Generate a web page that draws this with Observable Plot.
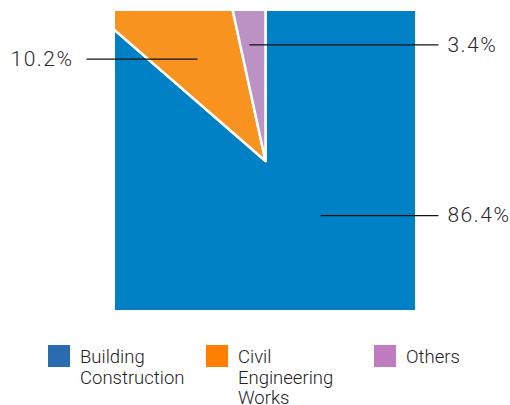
<!DOCTYPE html>
<html>
<head>
<meta charset="utf-8">
<script src="https://cdn.jsdelivr.net/npm/d3@7"></script>
<script src="https://cdn.jsdelivr.net/npm/@observablehq/plot@0.6"></script>
<style>
  body { margin: 0; background: #fff; font-family: Roboto, "Noto Sans", sans-serif; }
  #chart svg { display: block; }
  .legend { position: relative; height: 85px; font-weight: 300; font-size: 18.5px; line-height: 20.5px; color: #222; }
  .item { position: absolute; top: 25px; display: flex; align-items: flex-start; }
  .sw { width: 22px; height: 22px; flex: none; margin-right: 10px; }
  .lbl { margin-top: 2px; }
</style>
</head>
<body>
<div id="chart"></div>
<div class="legend" id="legend"></div>
<script>
// ---- data ----
const categories = ["Building Construction", "Civil Engineering Works", "Others"];
const legendLabels = ["Building<br>Construction", "Civil<br>Engineering<br>Works", "Others"];
const shares = [86.4, 10.2, 3.4];
const valueLabels = ["86.4%", "10.2%", "3.4%"];

// ---- styles / layout ----
const pieColors = ["#0081c6", "#f7931e", "#bc91c4"];
const legendColors = ["#2b6cb0", "#ff7f00", "#c07cc0"];
// leader-line layout in plot units
const labelLayout = [
  {x1: 0.367, y: -0.365, x2: 1.153, side: "right"},
  {x1: -0.453, y: 0.681, x2: -1.193, side: "left"},
  {x1: -0.107, y: 0.777, x2: 1.153, side: "right"}
];

// ---- geometry via d3.pie ----
const arcs = d3.pie().sort(null).value(d => d.v)(categories.map((c, i) => ({c, v: shares[i]})));
const R = 2;
const wedgePts = [];
arcs.forEach(a => {
  const name = a.data.c;
  wedgePts.push({name, x: 0, y: 0});
  const n = Math.max(4, Math.ceil((a.endAngle - a.startAngle) / 0.01));
  for (let k = 0; k <= n; k++) {
    const t = a.startAngle + (a.endAngle - a.startAngle) * k / n;
    wedgePts.push({name, x: R * Math.sin(t), y: R * Math.cos(t)});
  }
  wedgePts.push({name, x: 0, y: 0});
});

const labels = labelLayout.map((l, i) => ({...l, text: valueLabels[i]}));

const plot = Plot.plot({
  width: 510,
  height: 320,
  marginLeft: 115,
  marginRight: 95,
  marginTop: 11,
  marginBottom: 10,
  x: {domain: [-1, 1], axis: null},
  y: {domain: [-1, 1], axis: null},
  color: {domain: categories, range: pieColors},
  style: {fontFamily: "Roboto, sans-serif", overflow: "visible"},
  marks: [
    Plot.line(wedgePts, {x: "x", y: "y", z: "name", fill: "name", stroke: "white", strokeWidth: 2.5, strokeLinejoin: "miter", clip: true}),
    Plot.link(labels, {x1: "x1", x2: "x2", y1: "y", y2: "y", stroke: "#111", strokeWidth: 1.3}),
    Plot.text(labels.filter(d => d.side === "right"), {x: "x2", y: "y", text: "text", dx: 9, textAnchor: "start", fontSize: 21, fontWeight: 300, fill: "#2a2a2a"}),
    Plot.text(labels.filter(d => d.side === "left"), {x: "x2", y: "y", text: "text", dx: -13, textAnchor: "end", fontSize: 21, fontWeight: 300, fill: "#2a2a2a"})
  ]
});
plot.querySelectorAll("text").forEach(t => t.style.letterSpacing = "1.5px");
document.getElementById("chart").appendChild(plot);

// ---- legend ----
const lefts = [48, 206, 374];
const leg = document.getElementById("legend");
categories.forEach((c, i) => {
  const it = document.createElement("div");
  it.className = "item";
  it.style.left = lefts[i] + "px";
  it.innerHTML = `<div class="sw" style="background:${legendColors[i]}"></div><div class="lbl">${legendLabels[i]}</div>`;
  leg.appendChild(it);
});
</script>
</body>
</html>
